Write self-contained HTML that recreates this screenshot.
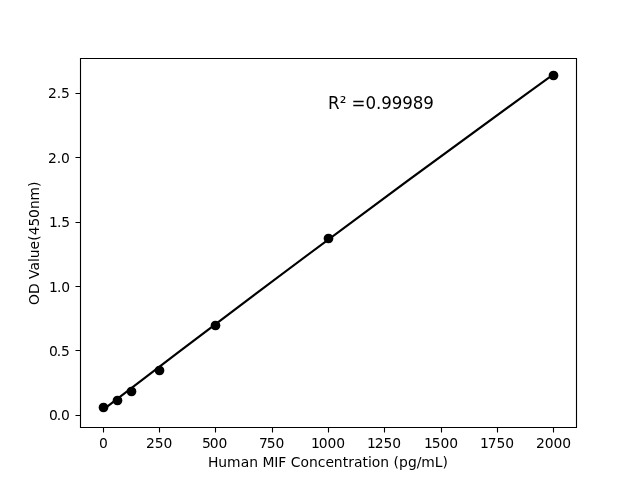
<!DOCTYPE html>
<html lang="en"><head><meta charset="utf-8"><title>Human MIF standard curve</title>
<style>html,body{margin:0;padding:0;background:#fff}body{width:640px;height:480px;overflow:hidden}svg{display:block}text{font-family:"DejaVu Sans","Liberation Sans",sans-serif;fill:#000}.t{font-size:13.889px}.a{font-size:16.667px}</style></head><body>
<svg width="640" height="480" viewBox="0 0 640 480">
<rect width="640" height="480" fill="#fff"/>
<g stroke="#000" stroke-width="1.111" fill="none">
<path d="M80.5 58.5H576.5V427.5H80.5Z" stroke-linecap="square"/>
<path d="M103.5 427.5V432.5M159.5 427.5V432.5M215.5 427.5V432.5M272.5 427.5V432.5M328.5 427.5V432.5M384.5 427.5V432.5M441.5 427.5V432.5M497.5 427.5V432.5M553.5 427.5V432.5M80.5 415.5H75.5M80.5 350.5H75.5M80.5 286.5H75.5M80.5 222.5H75.5M80.5 157.5H75.5M80.5 93.5H75.5"/>
</g>
<path d="M102.55 410.13Q328.00 237.27 553.45 74.41" fill="none" stroke="#000" stroke-width="2.083" stroke-linecap="square" stroke-linejoin="round"/>
<g fill="#000"><circle cx="103.5" cy="407.5" r="4.86"/><circle cx="117.5" cy="400.5" r="4.86"/><circle cx="131.5" cy="391.5" r="4.86"/><circle cx="159.5" cy="370.5" r="4.86"/><circle cx="215.5" cy="325.5" r="4.86"/><circle cx="328.5" cy="238.5" r="4.86"/><circle cx="553.5" cy="75.5" r="4.86"/></g>
<g class="t"><text x="99" y="448">0</text><text x="146 154.75 163.5" y="448">250</text><text x="202 209.75 218.5" y="448">500</text><text x="259 266.75 275.5" y="448">750</text><text x="311 318.75 327.5 336.25" y="448">1000</text><text x="367 374.75 383.5 392.25" y="448">1250</text><text x="424 431.75 440.5 449.25" y="448">1500</text><text x="480 487.75 496.5 505.25" y="448">1750</text><text x="536 544.75 553.5 562.25" y="448">2000</text></g>
<g class="t"><text x="49 56.75 61" y="420">0.0</text><text x="49 56.75 61" y="356">0.5</text><text x="49 57 61.25" y="292">1.0</text><text x="49 57 61.25" y="227">1.5</text><text x="48 56.75 61" y="163">2.0</text><text x="48 56.75 61" y="98">2.5</text></g>
<text class="t" x="208 218.25 227 240.75 249.25 258 262.5 274.25 278.25 286.5 290.75 300.5 309 317.75 325.5 333.75 342.75 348.25 354 362.5 368 371.75 380.25 389 393.5 399 408 416.75 421.25 434.75 442.5" y="467">Human MIF Concentration (pg/mL)</text>
<text class="t" transform="translate(39 0) rotate(-90)" x="-305 -294 -282.75 -279 -270.5 -262 -258.25 -249.5 -240.75 -235.25 -226.5 -218 -209 -200.5 -187" y="0">OD Value(450nm)</text>
<text class="a" transform="translate(0 109) scale(1 1.06)" x="328 339.75 346.25 351.5 365.5 376 381.25 391.75 402.25 412.75 423.25" y="0">R² =0.99989</text>
</svg></body></html>
